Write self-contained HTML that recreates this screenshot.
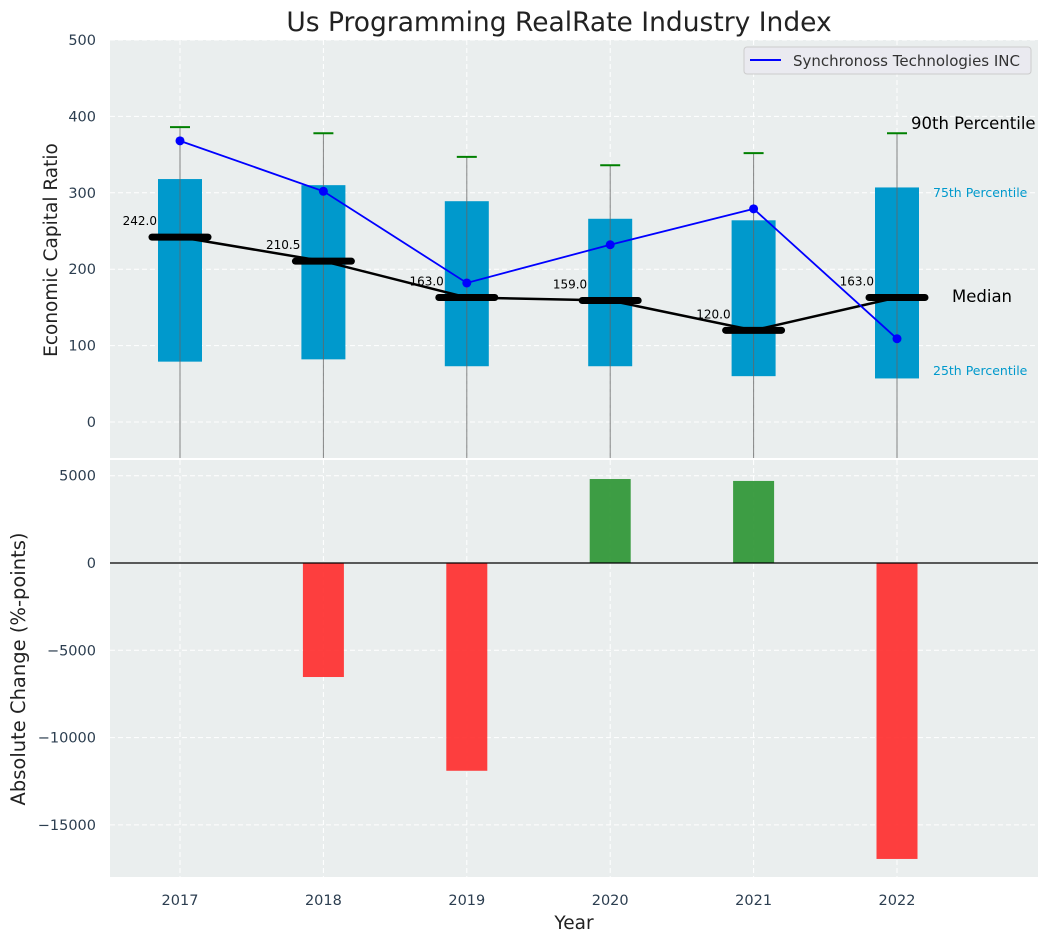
<!DOCTYPE html>
<html><head><meta charset="utf-8"><style>
body{margin:0;background:#fff;}
svg{display:block;font-family:"DejaVu Sans","Liberation Sans",sans-serif;}
</style></head><body>
<svg id="c" width="1048" height="942" viewBox="0 0 1048 942"></svg>
<script>
const years=[2017,2018,2019,2020,2021,2022];
const q1=[79,82,73,73,60,57];
const q3=[318,310,289,266,264,307];
const medians=[242,210.5,163,159,120,163];
const p90=[386,378,347,336,352,378];
const p10=[-60,-60,-60,-60,-60,-60];
const company=[368,302,182,232,279,109];
const changes=[0,-6530,-11900,4810,4700,-16950];
const topTicks=[0,100,200,300,400,500];
const botTicks=[5000,0,-5000,-10000,-15000];
const botTickLabels=["5000","0","\u22125000","\u221210000","\u221215000"];

const NS="http://www.w3.org/2000/svg";
const svg=document.getElementById('c');
function el(t,a,p){const e=document.createElementNS(NS,t);for(const k in a)e.setAttribute(k,a[k]);(p||svg).appendChild(e);return e;}
const L=110,R=1038;
const x=i=>180+(i)*143.4;
const yT=v=>422-v*0.764;
const yB=v=>563-v*0.01746;
const T0=40,T1=458,B0=460,B1=877;

let e=el('rect',{x:L,y:T0,width:R-L,height:T1-T0,fill:'#eaeeee'});

e=el('rect',{x:L,y:B0,width:R-L,height:B1-B0,fill:'#eaeeee'});


topTicks.forEach(v=>{el('line',{x1:L,x2:R,y1:yT(v),y2:yT(v),stroke:'#fff','stroke-dasharray':'5,3','stroke-width':1});});
botTicks.forEach(v=>{el('line',{x1:L,x2:R,y1:yB(v),y2:yB(v),stroke:'#fff','stroke-dasharray':'5,3','stroke-width':1});});
years.forEach((y,i)=>{
 el('line',{x1:x(i),x2:x(i),y1:T0,y2:T1,stroke:'#fff','stroke-dasharray':'5,3'});
 el('line',{x1:x(i),x2:x(i),y1:B0,y2:B1,stroke:'#fff','stroke-dasharray':'5,3'});
});

e=el('text',{x:559,y:31,'text-anchor':'middle','font-size':26.5,fill:'#222'});e.textContent='Us Programming RealRate Industry Index';


topTicks.forEach(v=>{e=el('text',{x:96,y:yT(v)+5,'text-anchor':'end','font-size':14.5,fill:'#2c3e50'});e.textContent=v;
 });
e=el('text',{x:57,y:250,'text-anchor':'middle','font-size':18.5,fill:'#222',transform:'rotate(-90 57 250)'});e.textContent='Economic Capital Ratio';


const g=el('g',{'clip-path':'url(#clipT)'});
const cp=el('clipPath',{id:'clipT'});el('rect',{x:L,y:T0,width:R-L,height:T1-T0},cp);
years.forEach((y,i)=>{
 e=el('rect',{x:x(i)-22,y:yT(q3[i]),width:44,height:yT(q1[i])-yT(q3[i]),fill:'#0099cc'},g);
 
 e=el('line',{x1:x(i),x2:x(i),y1:yT(p90[i]),y2:yT(p10[i]),stroke:'#666','stroke-width':1,opacity:0.8},g);
 
 e=el('line',{x1:x(i)-10,x2:x(i)+10,y1:yT(p90[i]),y2:yT(p90[i]),stroke:'green','stroke-width':2},g);
 
});
e=el('polyline',{points:medians.map((m,i)=>x(i)+','+yT(m)).join(' '),fill:'none',stroke:'#000','stroke-width':2.5});

years.forEach((y,i)=>{
 e=el('line',{x1:x(i)-28,x2:x(i)+28,y1:yT(medians[i]),y2:yT(medians[i]),stroke:'#000','stroke-width':7,'stroke-linecap':'round'});
 
 e=el('text',{x:x(i)-23,y:yT(medians[i])-12,'text-anchor':'end','font-size':12,fill:'#000'});e.textContent=medians[i].toFixed(1);
 
});
e=el('polyline',{points:company.map((m,i)=>x(i)+','+yT(m)).join(' '),fill:'none',stroke:'blue','stroke-width':1.8});

company.forEach((m,i)=>{e=el('circle',{cx:x(i),cy:yT(m),r:4.5,fill:'blue'});
 });

[['90th Percentile',911,129,16.5,'#000'],['75th Percentile',933,197,12.5,'#0099cc'],['Median',952,302,16.5,'#000'],['25th Percentile',933,375,12.5,'#0099cc']].forEach(a=>{
 e=el('text',{x:a[1],y:a[2],'font-size':a[3],fill:a[4]});e.textContent=a[0];
 });

const lg=el('g',{});
el('rect',{x:744,y:47,width:287,height:27,rx:3,fill:'#eaeaf0',stroke:'#ccc'},lg);
el('line',{x1:750,x2:781,y1:60,y2:60,stroke:'blue','stroke-width':2},lg);
e=el('text',{x:793,y:66,'font-size':15,fill:'#333'},lg);e.textContent='Synchronoss Technologies INC';

botTicks.forEach((v,i)=>{e=el('text',{x:96,y:yB(v)+5,'text-anchor':'end','font-size':14.5,fill:'#2c3e50'});e.textContent=botTickLabels[i];
 });
changes.forEach((c,i)=>{
 const y0=yB(Math.max(c,0)),y1=yB(Math.min(c,0));
 e=el('rect',{x:x(i)-20.5,y:y0,width:41,height:y1-y0,fill:c>=0?'#2a9431':'#ff2a2a',opacity:0.9});
 
});
e=el('line',{x1:L,x2:R,y1:yB(0),y2:yB(0),stroke:'#000','stroke-width':1.2});

e=el('text',{x:25,y:669,'text-anchor':'middle','font-size':19.5,fill:'#222',transform:'rotate(-90 25 669)'});e.textContent='Absolute Change (%-points)';

years.forEach((y,i)=>{e=el('text',{x:x(i),y:905,'text-anchor':'middle','font-size':14.5,fill:'#2c3e50'});e.textContent=y;
 });
e=el('text',{x:574,y:929,'text-anchor':'middle','font-size':18.5,fill:'#222'});e.textContent='Year';

</script>
</body></html>
